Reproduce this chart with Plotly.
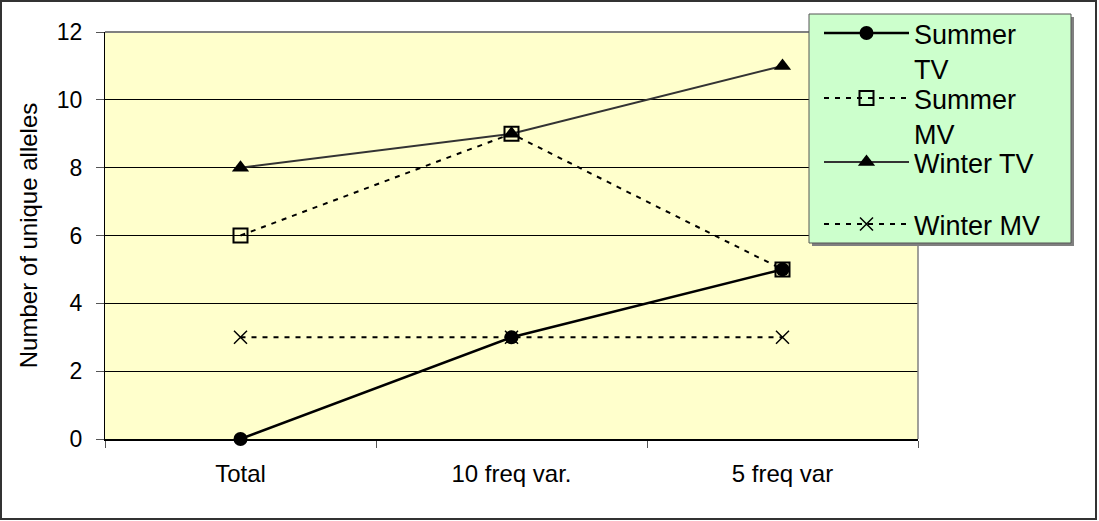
import plotly.graph_objects as go

categories = ["Total", "10 freq var.", "5 freq var"]
summer_tv = [0, 3, 5]
summer_mv = [6, 9, 5]
winter_tv = [8, 9, 11]
winter_mv = [3, 3, 3]
y_ticks = [0, 2, 4, 6, 8, 10, 12]

FONT = "Arial, Liberation Sans, sans-serif"

# plot-area geometry in pixels (used only to place frame/legend)
L, T, W, H = 105, 32, 813, 407
FIG_W, FIG_H = 1099, 521


def px(xp):
    return (xp - L) / W


def py(yp):
    return (T + H - yp) / H


fig = go.Figure()
fig.add_trace(go.Scatter(x=categories, y=winter_mv, name="Winter MV", mode="lines+markers",
                         legend="legend4", cliponaxis=False,
                         line=dict(color="black", width=2, dash="5px,6px"),
                         marker=dict(symbol="x-thin", size=13, line=dict(color="black", width=1.5))))
fig.add_trace(go.Scatter(x=categories, y=winter_tv, name="Winter TV", mode="lines+markers",
                         legend="legend3", cliponaxis=False,
                         line=dict(color="#333333", width=2),
                         marker=dict(symbol="triangle-up", size=15, color="black")))
fig.add_trace(go.Scatter(x=categories, y=summer_mv, name="Summer<br>MV", mode="lines+markers",
                         legend="legend2", cliponaxis=False,
                         line=dict(color="black", width=2, dash="5px,6px"),
                         marker=dict(symbol="square", size=14, color="rgba(0,0,0,0)",
                                     line=dict(color="black", width=2))))
fig.add_trace(go.Scatter(x=categories, y=summer_tv, name="Summer<br>TV", mode="lines+markers",
                         legend="legend", cliponaxis=False,
                         line=dict(color="black", width=2.5),
                         marker=dict(symbol="circle", size=14, color="black")))


def leg(sym_y):
    return dict(
        x=px(819), y=py(sym_y - 24), xanchor="left", yanchor="top",
        bgcolor="rgba(0,0,0,0)", borderwidth=0,
        font=dict(family=FONT, size=27, color="black"),
        itemwidth=85, valign="top",
    )


fig.update_layout(
    width=FIG_W, height=FIG_H,
    margin=dict(l=L, r=FIG_W - L - W, t=T, b=FIG_H - T - H, autoexpand=False),
    paper_bgcolor="white",
    plot_bgcolor="#FFFFCC",
    font=dict(family=FONT, size=24, color="black"),
    showlegend=True,
    legend=leg(33),
    legend2=leg(98),
    legend3=leg(162),
    legend4=leg(224),
    xaxis=dict(
        type="category", range=[-0.5, 2.5], tickson="boundaries",
        ticks="outside", ticklen=7, tickcolor="#555555",
        showline=True, linecolor="black", linewidth=1.5,
        showgrid=False, tickfont=dict(size=24), ticklabelstandoff=12,
    ),
    yaxis=dict(
        range=[0, 12], tickvals=y_ticks, ticks="outside", ticklen=8, tickcolor="#555555",
        showline=True, linecolor="black", linewidth=1,
        showgrid=True, gridcolor="black", gridwidth=1,
        zeroline=False, tickfont=dict(size=23), ticklabelstandoff=9,
        title=dict(text="Number of unique alleles", font=dict(size=24), standoff=12),
    ),
    shapes=[
        # top and right plot-area border (grey)
        dict(type="line", xref="paper", yref="paper", x0=1, x1=1, y0=0, y1=1,
             line=dict(color="#808080", width=1.5)),
        dict(type="line", xref="paper", yref="paper", x0=0, x1=1, y0=1, y1=1,
             line=dict(color="#808080", width=2)),
        # outer chart frame
        dict(type="rect", xref="paper", yref="paper",
             x0=px(1), x1=px(1096), y0=py(519), y1=py(1),
             line=dict(color="#333333", width=2)),
        # legend box shadow + box
        dict(type="rect", xref="paper", yref="paper",
             x0=px(812), x1=px(1074), y0=py(246), y1=py(17),
             fillcolor="#808080", line=dict(width=0), layer="above"),
        dict(type="rect", xref="paper", yref="paper",
             x0=px(809), x1=px(1071), y0=py(243), y1=py(14),
             fillcolor="#CCFFCC", line=dict(color="#555555", width=1), layer="above"),
    ],
)

fig.write_html("out.html", config={"displayModeBar": False},
               post_script="document.body.style.margin='0';")
